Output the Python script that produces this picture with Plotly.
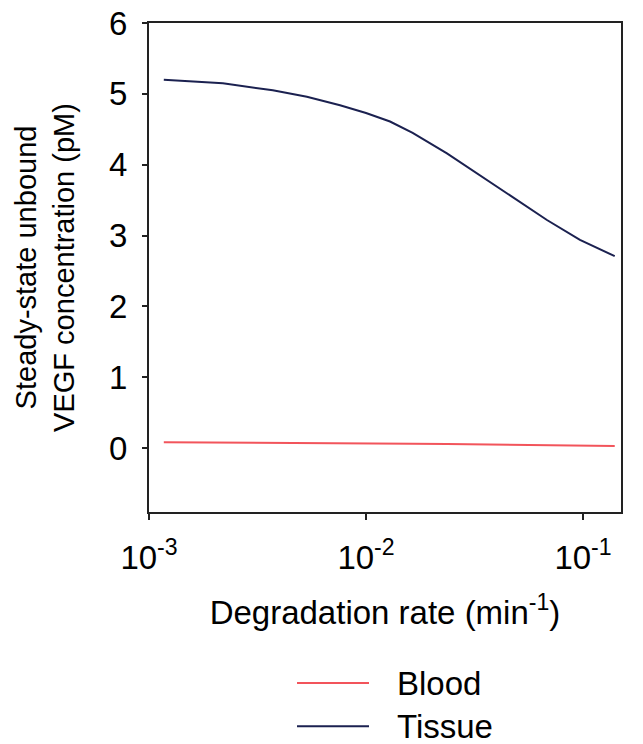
import plotly.graph_objects as go

# Data
degradation_rate = [0.00117, 0.00219, 0.00372, 0.00534, 0.00759, 0.0100, 0.0129,
                    0.0164, 0.0236, 0.0335, 0.0475, 0.0682, 0.0968, 0.140]
tissue = [5.20, 5.15, 5.05, 4.96, 4.84, 4.73, 4.61, 4.45, 4.16, 3.85, 3.54, 3.22, 2.94, 2.71]
blood = [0.085, 0.082, 0.078, 0.075, 0.072, 0.069, 0.066, 0.063, 0.058, 0.053,
         0.047, 0.041, 0.035, 0.030]

x_tickvals = [0.001, 0.01, 0.1]
x_ticktext = ["10<sup>-3</sup>", "10<sup>-2</sup>", "10<sup>-1</sup>"]
y_tickvals = [0, 1, 2, 3, 4, 5, 6]

series_names = ["Blood", "Tissue"]
blood_color = "#f2545b"
tissue_color = "#1b2150"

FONT = "Liberation Sans, Arial, sans-serif"

fig = go.Figure()
fig.add_trace(go.Scatter(x=degradation_rate, y=blood, mode="lines", name=series_names[0],
                         line=dict(color=blood_color, width=2)))
fig.add_trace(go.Scatter(x=degradation_rate, y=tissue, mode="lines", name=series_names[1],
                         line=dict(color=tissue_color, width=2)))

fig.update_layout(
    width=643, height=744,
    margin=dict(l=149, r=22, t=23, b=232, autoexpand=False),
    paper_bgcolor="white", plot_bgcolor="white",
    showlegend=False,
    font=dict(family=FONT, color="black", size=33),
)
fig.update_xaxes(
    type="log", range=[-3, -0.825], automargin=False,
    tickvals=x_tickvals, ticktext=x_ticktext,
    ticks="outside", ticklen=6, tickwidth=1.5, tickcolor="#222",
    ticklabelstandoff=9,
    showline=True, linewidth=2, linecolor="#222", mirror=True,
    showgrid=False, zeroline=False,
    tickfont=dict(size=33),
    title=dict(text="Degradation rate (min<sup>-1</sup>)", font=dict(size=33), standoff=26),
)
fig.update_yaxes(
    range=[-0.90, 6.0], automargin=False,
    tickvals=y_tickvals,
    ticks="outside", ticklen=5, tickwidth=1.5, tickcolor="#222",
    ticklabelstandoff=8,
    showline=True, linewidth=2, linecolor="#222", mirror=True,
    showgrid=False, zeroline=False,
    tickfont=dict(size=33),
    title=dict(text="Steady-state unbound<br>VEGF concentration (pM)", font=dict(size=29), standoff=26),
)

# Manual legend (wide line samples as in reference)
legend_rows = [(series_names[0], blood_color, -0.3497), (series_names[1], tissue_color, -0.4380)]
for name, color, yy in legend_rows:
    fig.add_shape(type="line", xref="paper", yref="paper", x0=0.3136, x1=0.4661,
                  y0=yy, y1=yy, line=dict(color=color, width=2))
    fig.add_annotation(xref="paper", yref="paper", x=0.5233, y=yy, text=name,
                       showarrow=False, xanchor="left", yanchor="middle", borderpad=0,
                       font=dict(size=33, family=FONT, color="black"))

fig.write_html("out.html", config={"displayModeBar": False},
               post_script="document.body.style.margin='0';")
